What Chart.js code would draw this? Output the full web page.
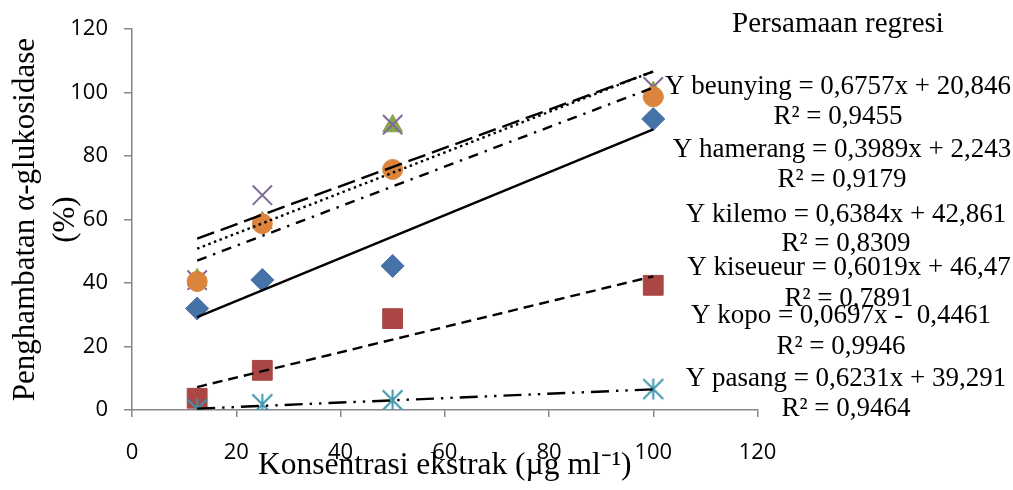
<!DOCTYPE html>
<html>
<head>
<meta charset="utf-8">
<script src="https://cdn.jsdelivr.net/npm/chart.js@4/dist/chart.umd.min.js"></script>
<style>
html,body{margin:0;padding:0;background:#fff;}
#wrap{position:relative;width:1013px;height:490px;}
</style>
</head>
<body>
<div id="wrap"><canvas id="c" width="1013" height="490"></canvas></div>
<script>
// ---- data ----
const concentrations = [12.5, 25, 50, 100];
const beunying = [32.0, 41.0, 45.4, 91.7];
const hamerang = [3.7, 12.5, 28.8, 39.3];
const kilemo   = [41.0, 59.0, 89.5, 100.0];
const kiseueur = [40.9, 67.7, 89.9, 101.8];
const kopo     = [0.3, 1.8, 3.1, 6.6];
const pasang   = [40.5, 58.7, 75.8, 98.7];

// trendline end points (x = 12.5 and x = 100)
const trendX = [12.5, 100];
const trendBeunying = [29.29, 88.42];
const trendHamerang = [7.23, 42.13];
const trendKilemo   = [50.84, 106.70];
const trendKiseueur = [54.00, 106.66];
const trendKopo     = [0.43, 6.52];
const trendPasang   = [47.08, 101.60];

const xTicks = [0, 20, 40, 60, 80, 100, 120];
const yTicks = [0, 20, 40, 60, 80, 100, 120];

const legendTitle = 'Persamaan regresi';
const equations = [
  'Y beunying = 0,6757x + 20,846', 'R² = 0,9455',
  'Y hamerang = 0,3989x + 2,243', 'R² = 0,9179',
  'Y kilemo = 0,6384x + 42,861', 'R² = 0,8309',
  'Y kiseueur = 0,6019x + 46,47', 'R² = 0,7891',
  'Y kopo = 0,0697x -  0,4461', 'R² = 0,9946',
  'Y pasang = 0,6231x + 39,291', 'R² = 0,9464'
];

const pts = (ys) => ys.map((y, i) => ({x: concentrations[i], y}));
const tr = (ys) => ys.map((y, i) => ({x: trendX[i], y}));

// Excel-like asterisk marker
function makeStar(color) {
  const c = document.createElement('canvas');
  c.width = 23; c.height = 23;
  const g = c.getContext('2d');
  g.strokeStyle = color; g.lineWidth = 2;
  g.beginPath();
  g.moveTo(11.5, 1); g.lineTo(11.5, 22);
  g.moveTo(1.5, 1.5); g.lineTo(21.5, 21.5);
  g.moveTo(21.5, 1.5); g.lineTo(1.5, 21.5);
  g.stroke();
  return c;
}

const textPlugin = {
  id: 'eqText',
  afterDraw(chart) {
    const ctx = chart.ctx;
    ctx.save();
    ctx.fillStyle = '#000';
    ctx.textAlign = 'center';
    ctx.textBaseline = 'alphabetic';
    ctx.font = '29px "Liberation Serif"';
    ctx.fillText(legendTitle, 838, 32);
    ctx.font = '27px "Liberation Serif"';
    const pos = [
      [838, 94], [838, 124],
      [842, 157], [842, 187],
      [846, 222], [846, 251],
      [849, 275], [849, 306],
      [841, 323], [841, 354],
      [846, 386], [846, 416]
    ];
    equations.forEach((t, i) => ctx.fillText(t, pos[i][0], pos[i][1]));
    ctx.restore();
  }
};

const trendStyle = (data, dash, order, cap) => ({
  type: 'scatter', data: tr(data), showLine: true, borderColor: '#000', backgroundColor: '#000',
  borderWidth: 2.4, borderDash: dash, borderCapStyle: cap || 'butt', pointRadius: 0,
  pointHoverRadius: 0, fill: false, order
});

new Chart(document.getElementById('c'), {
  type: 'scatter',
  data: {
    datasets: [
      trendStyle(trendBeunying, [], 0),
      trendStyle(trendHamerang, [10, 6], 0),
      trendStyle(trendKilemo, [2.5, 3.5], 0),
      trendStyle(trendKiseueur, [18, 7], 0),
      trendStyle(trendKopo, [18, 7, 2.4, 7, 2.4, 7], 0),
      trendStyle(trendPasang, [10, 7, 2.4, 7], 0),
      {label: 'beunying', data: pts(beunying), pointStyle: 'rectRot', pointRadius: 11.5,
       backgroundColor: '#4572A7', borderColor: '#4572A7', borderWidth: 1, order: 6},
      {label: 'hamerang', data: pts(hamerang), pointStyle: 'rect', pointRadius: 14,
       backgroundColor: '#AA4643', borderColor: '#AA4643', borderWidth: 1, order: 5},
      {label: 'kilemo', data: pts(kilemo), pointStyle: 'triangle', pointRadius: 11.5,
       backgroundColor: '#89A54E', borderColor: '#89A54E', borderWidth: 1, order: 4},
      {label: 'kiseueur', data: pts(kiseueur), pointStyle: 'crossRot', pointRadius: 13.7,
       backgroundColor: '#80699B', borderColor: '#80699B', borderWidth: 2, order: 3},
      {label: 'kopo', data: pts(kopo), pointStyle: makeStar('#3D96AE'), pointRadius: 11,
       backgroundColor: '#3D96AE', borderColor: '#3D96AE', order: 2},
      {label: 'pasang', data: pts(pasang), pointStyle: 'circle', pointRadius: 10,
       backgroundColor: '#DB843D', borderColor: '#DB843D', borderWidth: 1, order: 1}
    ]
  },
  options: {
    responsive: false,
    animation: false,
    devicePixelRatio: 1,
    layout: {padding: {left: 0, top: 25, right: 255.5, bottom: 0}},
    plugins: {legend: {display: false}, tooltip: {enabled: false}},
    scales: {
      x: {
        type: 'linear', min: xTicks[0], max: xTicks[xTicks.length - 1],
        afterBuildTicks: (s) => { s.ticks = xTicks.map(v => ({value: v})); },
        afterFit: (s) => { s.height = 80; },
        grid: {drawOnChartArea: false, drawTicks: true, tickLength: 7, color: '#868686', lineWidth: 1.5},
        border: {display: true, color: '#868686', width: 1.5},
        ticks: {color: '#000', font: {family: '"Open Sans"', size: 22}, padding: 23, maxRotation: 0},
        title: {display: true, text: 'Konsentrasi ekstrak (µg ml⁻¹)', color: '#000',
                font: {family: '"Liberation Serif"', size: 31.5}, padding: {top: 0, bottom: 5}}
      },
      y: {
        type: 'linear', min: yTicks[0], max: yTicks[yTicks.length - 1],
        afterBuildTicks: (s) => { s.ticks = yTicks.map(v => ({value: v})); },
        afterFit: (s) => { s.width = 132; },
        grid: {drawOnChartArea: false, drawTicks: true, tickLength: 8, color: '#868686', lineWidth: 1.5},
        border: {display: true, color: '#868686', width: 1.5},
        ticks: {color: '#000', font: {family: '"Open Sans"', size: 22}, padding: 16},
        title: {display: true, text: ['Penghambatan α-glukosidase', '(%)'], color: '#000',
                font: {family: '"Liberation Serif"', size: 31, lineHeight: 1.29}, padding: {top: 6, bottom: 0}}
      }
    }
  },
  plugins: [textPlugin]
});
</script>
</body>
</html>
